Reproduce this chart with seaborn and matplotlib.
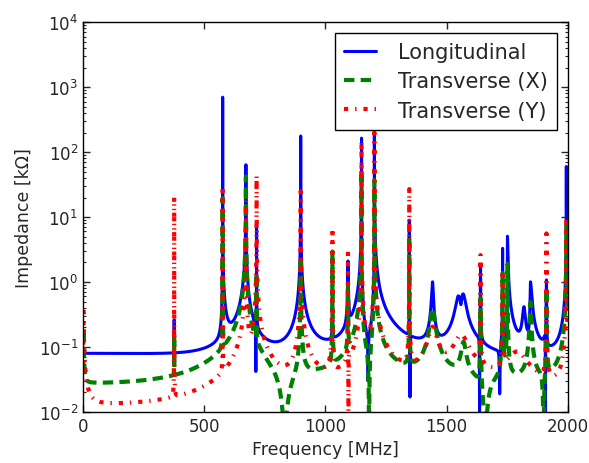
import numpy as np
import pandas as pd
import matplotlib
matplotlib.use("Agg")
import matplotlib.pyplot as plt
import seaborn as sns

# ---- values ----
# each resonance: centre frequency [MHz], peak impedance [kOhm],
# tail strength below / above the peak (|Z| ~ tail / |f - f0| on the flanks)
long_freq = [376, 576, 672, 716, 898, 1029, 1093, 1149, 1202, 1346, 1442, 1548, 1568,
             1640, 1731, 1751, 1819, 1846, 1912, 1994]
long_peak = [0.25, 700, 64, 10, 177, 3.0, 2.1, 165, 205, 10, 1.0, 0.55, 0.62,
             2.0, 3.4, 5.1, 0.4, 1.0, 1.2, 60]
long_tail_lo = [0.01, 1.5, 11.9, 0.5, 7, 0.3, 1.5, 12, 3, 0.3, 3, 5.5, 6.2,
                0.5, 0.5, 0.5, 2, 1, 1.0, 4]
long_tail_hi = [0.01, 4.5, 8, 0.5, 8, 0.3, 1.5, 3, 18, 0.3, 2.5, 5.5, 6.2,
                0.5, 0.5, 6, 2, 4, 0.3, 4]
long_notch_freq = [713, 1176, 1349, 1559, 1636, 1719, 1908]
long_notch_min = [0.042, 0.03, 0.017, 0.45, 0.005, 0.019, 0.005]
long_notch_width = [2, 3, 1.5, 3, 2, 3, 2]
long_background = 0.08
long_background_cut = 1000

tx_freq = [2, 376, 576, 672, 716, 898, 1029, 1093, 1149, 1202, 1346, 1442, 1570, 1640,
           1731, 1751, 1846, 1912, 1994]
tx_peak = [0.2, 0.15, 20, 44, 1.5, 3, 3, 1, 55, 40, 5, 0.4, 0.12, 1.0, 1.5, 2, 0.5, 1, 8]
tx_tail_lo = [0.1, 0.01, 0.3, 10, 0.2, 1, 0.3, 0.3, 5.5, 2, 0.3, 3, 1, 0.3, 0.5, 0.5, 1,
              0.3, 2]
tx_tail_hi = [0.1, 0.01, 0.3, 5.8, 0.2, 1, 0.3, 0.3, 2, 4.5, 0.3, 3, 1, 0.3, 0.5, 0.5, 1,
              0.3, 2]
tx_notch_freq = [832, 1180, 1660, 1900]
tx_notch_min = [0.004, 0.004, 0.004, 0.005]
tx_notch_width = [50, 8, 30, 8]
tx_background = 0.028
tx_background_cut = 1e9

ty_freq = [2, 376, 576, 672, 716, 898, 1029, 1093, 1149, 1202, 1346, 1442, 1560, 1640,
           1731, 1790, 1912, 1994]
ty_peak = [0.4, 20, 30, 18, 44, 25, 6.8, 4.5, 150, 200, 27, 0.2, 0.15, 2.6, 1.5, 0.08,
           5.6, 10]
ty_tail_lo = [0.2, 0.05, 0.1, 3.5, 3, 2, 0.6, 0.3, 3, 3, 0.5, 3, 4, 0.3, 0.3, 3, 0.3, 1]
ty_tail_hi = [0.2, 0.05, 0.1, 2, 4, 3, 0.3, 0.3, 3, 5, 0.5, 3, 4, 0.3, 0.3, 3, 0.3, 1]
ty_notch_freq = [1095]
ty_notch_min = [0.005]
ty_notch_width = [2]
ty_background = 0.013
ty_background_cut = 1e9

series_names = ["Longitudinal", "Transverse (X)", "Transverse (Y)"]


def spectrum(f, freq, peak, tlo, thi, nf, nv, nw, bg, bgcut):
    # incoherent (power) sum of the resonances on top of a smooth floor
    p = (bg / np.sqrt(1.0 + (f / bgcut) ** 2)) ** 2
    for f0, r, cl, ch in zip(freq, peak, tlo, thi):
        c = np.where(f < f0, cl, ch)
        q = r * f0 / (2.0 * c)
        d = f / f0 - f0 / f
        p = p + r ** 2 / (1.0 + (q * d) ** 2)
    z = np.sqrt(p)
    for fn, vn, wn in zip(nf, nv, nw):
        base = np.interp(fn, f, z)
        k = min(vn / base, 1.0)
        z = z * np.sqrt(((f - fn) ** 2 + (k * wn) ** 2) / ((f - fn) ** 2 + wn ** 2))
    return z


all_marks = long_freq + tx_freq + ty_freq + long_notch_freq + tx_notch_freq + ty_notch_freq
f = np.unique(np.concatenate([np.linspace(0.5, 2000, 60000), np.array(all_marks, float)]))

zl = spectrum(f, long_freq, long_peak, long_tail_lo, long_tail_hi, long_notch_freq,
              long_notch_min, long_notch_width, long_background, long_background_cut)
zx = spectrum(f, tx_freq, tx_peak, tx_tail_lo, tx_tail_hi, tx_notch_freq,
              tx_notch_min, tx_notch_width, tx_background, tx_background_cut)
zy = spectrum(f, ty_freq, ty_peak, ty_tail_lo, ty_tail_hi, ty_notch_freq,
              ty_notch_min, ty_notch_width, ty_background, ty_background_cut)

df = pd.DataFrame({"f": f, "L": zl, "X": zx, "Y": zy})

sns.set_style("ticks")
plt.rcParams["font.family"] = ["DejaVu Sans"]
plt.rcParams["lines.scale_dashes"] = False
plt.rcParams["mathtext.default"] = "regular"

fig = plt.figure(figsize=(5.89, 4.64), dpi=100)
ax = fig.add_axes([0.141, 0.110, 0.823, 0.840])

sns.lineplot(data=df, x="f", y="L", ax=ax, color="#0000ff", lw=2.2,
             estimator=None, sort=False, label=series_names[0])
sns.lineplot(data=df, x="f", y="X", ax=ax, color="#008000", lw=3,
             estimator=None, sort=False, label=series_names[1])
sns.lineplot(data=df, x="f", y="Y", ax=ax, color="#ff0000", lw=3,
             estimator=None, sort=False, label=series_names[2])
lines = ax.get_lines()
lines[1].set_dashes((7.5, 4.5))
lines[2].set_dashes((3, 5, 1, 5))

ax.set_yscale("log")
ax.set_xlim(0, 2000)
ax.set_ylim(1e-2, 1e4)
ax.set_xticks([0, 500, 1000, 1500, 2000])
ax.set_xlabel("Frequency [MHz]", fontsize=12.5)
ax.set_ylabel("Impedance [kΩ]", fontsize=12.5)
ax.tick_params(which="both", direction="in", top=True, right=True, labelsize=12)
ax.tick_params(which="major", length=5, width=1)
ax.tick_params(which="minor", length=2.5, width=0.8)
for s in ax.spines.values():
    s.set_linewidth(1.0)
    s.set_color("black")

leg = ax.legend(loc="upper right", fontsize=15, frameon=True, fancybox=False,
                handlelength=1.55, handletextpad=1.05, borderpad=0.45,
                labelspacing=0.45, borderaxespad=0.5)
leg.get_frame().set_edgecolor("black")
leg.get_frame().set_linewidth(1.0)
leg.get_frame().set_alpha(1)
leg_lines = leg.get_lines()
leg_lines[1].set_dashes((7.5, 4.5))
leg_lines[2].set_dashes((3, 5, 1, 5))

fig.savefig("out.png", dpi=100)
